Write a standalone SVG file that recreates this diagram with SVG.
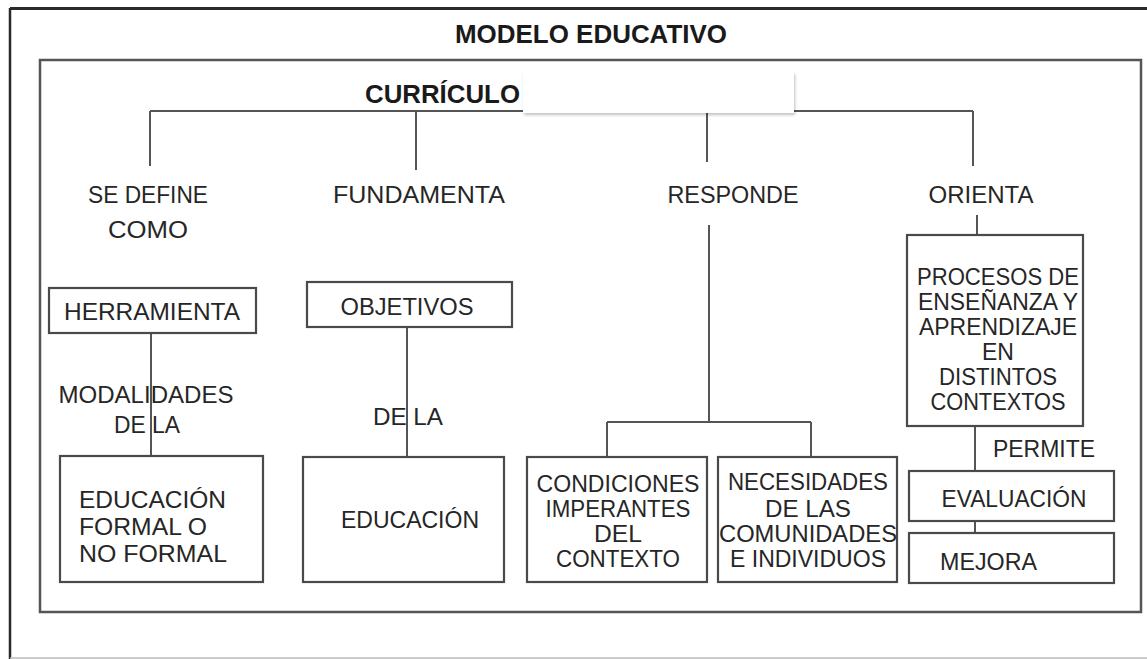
<svg xmlns="http://www.w3.org/2000/svg" width="1147" height="659" viewBox="0 0 1147 659">
<style>
text{font-family:"Liberation Sans",Arial,sans-serif;fill:#262626;font-size:24px}
.b{font-weight:bold;fill:#1a1a1a;font-size:25px}
.m{text-anchor:middle}
.s{font-size:23px}
.box{fill:#fff;stroke:#4a4a4a;stroke-width:2.2}
.ln{fill:none;stroke:#555;stroke-width:2}
</style>
<defs>
<filter id="sh" x="-5%" y="-10%" width="110%" height="130%">
<feDropShadow dx="1" dy="2" stdDeviation="1.5" flood-color="#000" flood-opacity="0.25"/>
</filter>
</defs>
<rect width="1147" height="659" fill="#fff"/>
<g id="frame">
<line x1="10" y1="8.5" x2="1147" y2="8.5" stroke="#2a2a2a" stroke-width="3"/>
<line x1="10" y1="8" x2="10" y2="659" stroke="#2a2a2a" stroke-width="2.5"/>
<line x1="10" y1="658" x2="1147" y2="658" stroke="#bbb" stroke-width="1.5"/>
<rect x="40" y="60" width="1101" height="552" fill="none" stroke="#555" stroke-width="2.5"/>
<text class="b m" x="591" y="43" textLength="272" lengthAdjust="spacingAndGlyphs">MODELO EDUCATIVO</text>
</g>
<g id="connectors">
<path class="ln" d="M150,111 H973 M150,111 V166 M416,111 V170 M707,111 V162 M973,111 V166"/>
<path class="ln" d="M977,215 V235"/>
<path class="ln" d="M709,225 V422 M607,422 H811 M607,422 V457 M811,422 V457"/>
<path class="ln" d="M151,333 V456"/>
<path class="ln" d="M407,327 V457"/>
<path class="ln" d="M975,426 V471 M975,521 V533"/>
</g>
<g id="root">
<text class="b" x="365" y="103" textLength="155" lengthAdjust="spacingAndGlyphs">CURRÍCULO</text>
<rect x="523" y="72" width="271" height="41" fill="#fff" filter="url(#sh)"/>
</g>
<g id="lbl-define"><text class="m" x="148" y="203" textLength="120" lengthAdjust="spacingAndGlyphs">SE DEFINE</text><text class="m" x="148" y="238" textLength="80" lengthAdjust="spacingAndGlyphs">COMO</text></g>
<g id="lbl-fundamenta"><text class="m" x="419" y="203" textLength="172" lengthAdjust="spacingAndGlyphs">FUNDAMENTA</text></g>
<g id="lbl-responde"><text class="m" x="733" y="203" textLength="131" lengthAdjust="spacingAndGlyphs">RESPONDE</text></g>
<g id="lbl-orienta"><text class="m" x="981" y="203" textLength="105" lengthAdjust="spacingAndGlyphs">ORIENTA</text></g>
<g id="herramienta"><rect class="box" x="49" y="288" width="207" height="45"/><text class="m" x="152" y="320" textLength="176" lengthAdjust="spacingAndGlyphs">HERRAMIENTA</text></g>
<g id="objetivos"><rect class="box" x="307" y="282" width="205" height="45"/><text class="m" x="407" y="315" textLength="133" lengthAdjust="spacingAndGlyphs">OBJETIVOS</text></g>
<g id="lbl-modalidades"><text class="m" x="146" y="403" textLength="175" lengthAdjust="spacingAndGlyphs">MODALIDADES</text><text class="m" x="147" y="433" textLength="66" lengthAdjust="spacingAndGlyphs">DE LA</text></g>
<g id="lbl-dela"><text class="m" x="408" y="425" textLength="70" lengthAdjust="spacingAndGlyphs">DE LA</text></g>
<g id="edu-formal"><rect class="box" x="60" y="456" width="203" height="126"/>
<text x="79" y="508" textLength="147" lengthAdjust="spacingAndGlyphs">EDUCACIÓN</text>
<text x="79" y="535" textLength="128" lengthAdjust="spacingAndGlyphs">FORMAL O</text>
<text x="79" y="562" textLength="148" lengthAdjust="spacingAndGlyphs">NO FORMAL</text></g>
<g id="educacion"><rect class="box" x="303" y="457" width="201" height="125"/><text class="m" x="410" y="528" textLength="138" lengthAdjust="spacingAndGlyphs">EDUCACIÓN</text></g>
<g id="condiciones"><rect class="box" x="527" y="457" width="180" height="125"/>
<text class="m s" x="618" y="492" textLength="163" lengthAdjust="spacingAndGlyphs">CONDICIONES</text>
<text class="m s" x="618" y="517" textLength="145" lengthAdjust="spacingAndGlyphs">IMPERANTES</text>
<text class="m s" x="618" y="542" textLength="48" lengthAdjust="spacingAndGlyphs">DEL</text>
<text class="m s" x="618" y="567" textLength="124" lengthAdjust="spacingAndGlyphs">CONTEXTO</text></g>
<g id="necesidades"><rect class="box" x="718" y="457" width="179" height="125"/>
<text class="m s" x="808" y="490" textLength="160" lengthAdjust="spacingAndGlyphs">NECESIDADES</text>
<text class="m s" x="808" y="517" textLength="86" lengthAdjust="spacingAndGlyphs">DE LAS</text>
<text class="m s" x="808" y="542" textLength="178" lengthAdjust="spacingAndGlyphs">COMUNIDADES</text>
<text class="m s" x="808" y="567" textLength="156" lengthAdjust="spacingAndGlyphs">E INDIVIDUOS</text></g>
<g id="procesos"><rect class="box" x="907" y="235" width="176" height="191"/>
<text class="m s" x="998" y="285" textLength="162" lengthAdjust="spacingAndGlyphs">PROCESOS DE</text>
<text class="m s" x="998" y="310" textLength="160" lengthAdjust="spacingAndGlyphs">ENSEÑANZA Y</text>
<text class="m s" x="998" y="335" textLength="158" lengthAdjust="spacingAndGlyphs">APRENDIZAJE</text>
<text class="m s" x="998" y="360">EN</text>
<text class="m s" x="998" y="385" textLength="118" lengthAdjust="spacingAndGlyphs">DISTINTOS</text>
<text class="m s" x="998" y="410" textLength="135" lengthAdjust="spacingAndGlyphs">CONTEXTOS</text></g>
<g id="lbl-permite"><text class="m s" x="1044" y="457" textLength="102" lengthAdjust="spacingAndGlyphs">PERMITE</text></g>
<g id="evaluacion"><rect class="box" x="909" y="471" width="205" height="50"/><text class="m s" x="1014" y="507" textLength="145" lengthAdjust="spacingAndGlyphs">EVALUACIÓN</text></g>
<g id="mejora"><rect class="box" x="909" y="533" width="205" height="50"/><text class="s" x="940" y="570" textLength="97" lengthAdjust="spacingAndGlyphs">MEJORA</text></g>
</svg>
